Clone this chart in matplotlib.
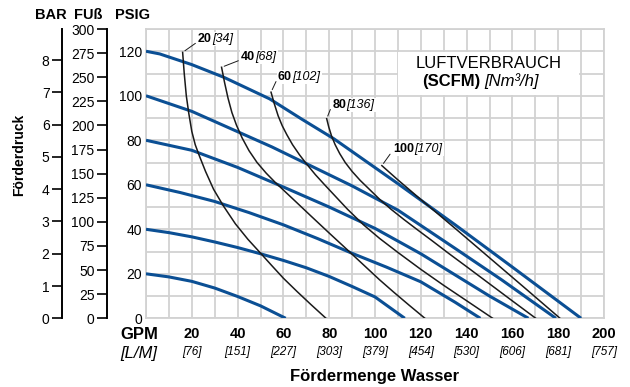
import matplotlib.pyplot as plt

plt.rcParams['font.family'] = ['Liberation Sans', 'DejaVu Sans']

# pump curves: discharge pressure (psig) over flow (gpm), one per inlet air pressure
pump20_gpm = [0, 10, 20, 30, 40, 50, 61]
pump20_psi = [20, 18.6, 16.6, 13.6, 9.8, 5.6, 0]
pump40_gpm = [0, 10, 20, 30, 40, 50, 60, 70, 80, 90, 100, 113]
pump40_psi = [40, 38.5, 36.6, 34.3, 31.8, 29, 26, 22.7, 18.8, 14.3, 9.6, 0]
pump60_gpm = [0, 15, 30, 45, 60, 75, 90, 105, 120, 135, 146]
pump60_psi = [60, 56.5, 52.5, 47.5, 42, 35.8, 29.2, 23, 16.4, 7.2, 0]
pump80_gpm = [0, 20, 40, 60, 80, 100, 120, 135, 150, 167]
pump80_psi = [80, 75.5, 67.8, 59, 50, 40.4, 29, 19.5, 10, 0]
pump100_gpm = [0, 20, 38.6, 55, 70, 90, 110, 135, 155, 179]
pump100_psi = [100, 93, 84.5, 77, 69.5, 59.5, 48.6, 31.4, 17.5, 0]
pump120_gpm = [0, 6, 20, 34, 54, 68, 82, 110, 135, 160, 190]
pump120_psi = [120, 118.8, 114, 108.3, 98.6, 89.5, 80.7, 60.5, 42, 23, 0]

# air consumption curves (scfm)
air20_gpm = [16, 16.7, 17.6, 18.7, 20, 21.5, 23.3, 26, 29.5, 33.8, 39, 44.5, 50, 55, 60, 66, 72, 78.6]
air20_psi = [119.5, 110, 100, 92, 84, 78, 73, 66, 58, 50.5, 42.5, 35.5, 29.3, 23.6, 18, 12, 6.2, 0]
air40_gpm = [33, 34.3, 35.8, 37.5, 39.5, 42, 45, 48.5, 52.5, 56.5, 59, 65, 72, 80, 88, 95, 102, 108, 115, 121.8]
air40_psi = [112.8, 106, 99, 92.5, 86.8, 81, 75.3, 70, 65.2, 61, 58.6, 52.8, 46, 38.3, 30.7, 24, 17.3, 11.9, 5.8, 0]
air60_gpm = [54.6, 56, 57.7, 59.5, 61.5, 64, 67, 70, 74, 78, 83, 88, 95, 102, 110, 120, 130, 140, 151.4]
air60_psi = [101.6, 96.5, 91, 86.5, 82.5, 78, 73.5, 69.5, 64.5, 60, 54.5, 49, 42, 35.9, 29.6, 22, 14.8, 7.9, 0]
air80_gpm = [78.9, 79.8, 81, 82.6, 84.6, 87, 90, 93.5, 97.5, 102, 107, 112.5, 118.5, 125, 132, 140, 150, 160, 170.2]
air80_psi = [89.7, 86, 82, 78, 74, 70, 66, 62, 58, 53.5, 49, 44.5, 39.8, 34.8, 29.3, 23.2, 15.5, 7.8, 0]
air100_gpm = [103, 110, 120, 135, 150, 165, 180.8]
air100_psi = [68.6, 62.2, 53.4, 40.4, 27.2, 14, 0]

air_scfm = ['20', '40', '60', '80', '100']
air_nm3h = ['34', '68', '102', '136', '170']

gpm_ticks = [20, 40, 60, 80, 100, 120, 140, 160, 180, 200]
lpm_ticks = ['76', '151', '227', '303', '379', '454', '530', '606', '681', '757']
psi_ticks = [0, 20, 40, 60, 80, 100, 120]
bar_ticks = [0, 1, 2, 3, 4, 5, 6, 7, 8]
ft_ticks = [0, 25, 50, 75, 100, 125, 150, 175, 200, 225, 250, 275, 300]

blue = '#0b4f94'
grid = '#d2d2d2'
white_box = dict(boxstyle='square,pad=0.08', fc='white', ec='none')

fig = plt.figure(figsize=(6.3, 3.87), dpi=100)
ax = fig.add_axes([146 / 630, 1 - 318.3 / 387, 458 / 630, 289.3 / 387])
ax.set_xlim(0, 200)
ax.set_ylim(0, 130)

ax.set_xticks(range(0, 201, 10))
ax.set_xticklabels([])
ax.set_yticks(range(0, 131, 10))
ax.set_yticklabels([str(v) if v in psi_ticks else '' for v in range(0, 131, 10)], fontsize=10)
ax.tick_params(length=0, pad=3)
ax.grid(True, color=grid, lw=1.3)
for s in ax.spines.values():
    s.set_color(grid)
    s.set_linewidth(1.3)

pumps = [(pump20_gpm, pump20_psi), (pump40_gpm, pump40_psi), (pump60_gpm, pump60_psi),
         (pump80_gpm, pump80_psi), (pump100_gpm, pump100_psi), (pump120_gpm, pump120_psi)]
for g, p in pumps:
    ax.plot(g, p, color=blue, lw=2.2, solid_capstyle='butt', zorder=3)

airs = [(air20_gpm, air20_psi), (air40_gpm, air40_psi), (air60_gpm, air60_psi),
        (air80_gpm, air80_psi), (air100_gpm, air100_psi)]
label_offsets = [(11, 7.5), (14, 5.5), (5, 9), (4, 8), (8, 9.5)]
for (g, p), scfm, nm3, off in zip(airs, air_scfm, air_nm3h, label_offsets):
    ax.plot(g, p, color='#1a1a1a', lw=1.1, zorder=4)
    t = ax.annotate(scfm, xy=(g[0], p[0]), xytext=off, textcoords='offset points',
                    fontsize=9, fontweight='bold', ha='left', va='baseline', zorder=5,
                    bbox=white_box)
    ax.annotate('[%s]' % nm3, xy=(1, 0), xycoords=t, xytext=(0.4, 0),
                textcoords='offset points', fontsize=9, fontstyle='italic',
                ha='left', va='bottom', zorder=5, bbox=white_box)
    # short leader from the top of the curve to its label
    ax.annotate('', xy=(g[0], p[0]), xytext=(-0.1, 0.2), textcoords=t,
                arrowprops=dict(arrowstyle='-', lw=0.7, color='#1a1a1a',
                                shrinkA=1, shrinkB=2))

# legend box
ax.fill_between([110, 189], 100.5, 119.5, color='white', zorder=2, lw=0)
ax.text(149.5, 114.5, 'LUFTVERBRAUCH', fontsize=12, ha='center', va='center', zorder=5)
ax.text(146, 106.5, '(SCFM)', fontsize=12, fontweight='bold', ha='right', va='center', zorder=5)
ax.text(147.8, 106.5, '[Nm³/h]', fontsize=12, fontstyle='italic', ha='left', va='center', zorder=5)

# flow tick labels below the grid
for g, l in zip(gpm_ticks, lpm_ticks):
    ax.annotate(str(g), xy=(g, 0), xycoords=('data', 'axes fraction'), xytext=(0, -11.5),
                textcoords='offset points', ha='center', va='center',
                fontsize=10.5, fontweight='bold')
    ax.annotate('[%s]' % l, xy=(g, 0), xycoords=('data', 'axes fraction'), xytext=(0, -24.5),
                textcoords='offset points', ha='center', va='center',
                fontsize=8.5, fontstyle='italic')
ax.annotate('GPM', xy=(0, 0), xycoords=('data', 'axes fraction'), xytext=(-5, -12),
            textcoords='offset points', ha='center', va='center', fontsize=12, fontweight='bold')
ax.annotate('[L/M]', xy=(0, 0), xycoords=('data', 'axes fraction'), xytext=(-5, -25),
            textcoords='offset points', ha='center', va='center', fontsize=12, fontstyle='italic')
fig.text(375 / 630, 1 - 376 / 387, 'Fördermenge Wasser', ha='center', va='center',
         fontsize=12, fontweight='bold')

# bar and feet scales to the left
bar = ax.secondary_yaxis((62 - 146) / 458, functions=(lambda p: p / 14.5038, lambda b: b * 14.5038))
ft = ax.secondary_yaxis((107 - 146) / 458, functions=(lambda p: p * 2.3077, lambda f: f / 2.3077))
for sec, ticks in ((bar, bar_ticks), (ft, ft_ticks)):
    sec.set_yticks(ticks)
    sec.tick_params(length=7, width=1.2, pad=2, labelsize=10, direction='out')
    sec.spines['left'].set_linewidth(1.4)

fig.text(51 / 630, 1 - 15 / 387, 'BAR', ha='center', va='center', fontsize=10.5, fontweight='bold')
fig.text(88 / 630, 1 - 15 / 387, 'FUß', ha='center', va='center', fontsize=10.5, fontweight='bold')
fig.text(133 / 630, 1 - 15 / 387, 'PSIG', ha='center', va='center', fontsize=10.5, fontweight='bold')
fig.text(19 / 630, 1 - 155 / 387, 'Förderdruck', ha='center', va='center', rotation=90,
         fontsize=10, fontweight='bold')

fig.savefig('out.png', dpi=100)
